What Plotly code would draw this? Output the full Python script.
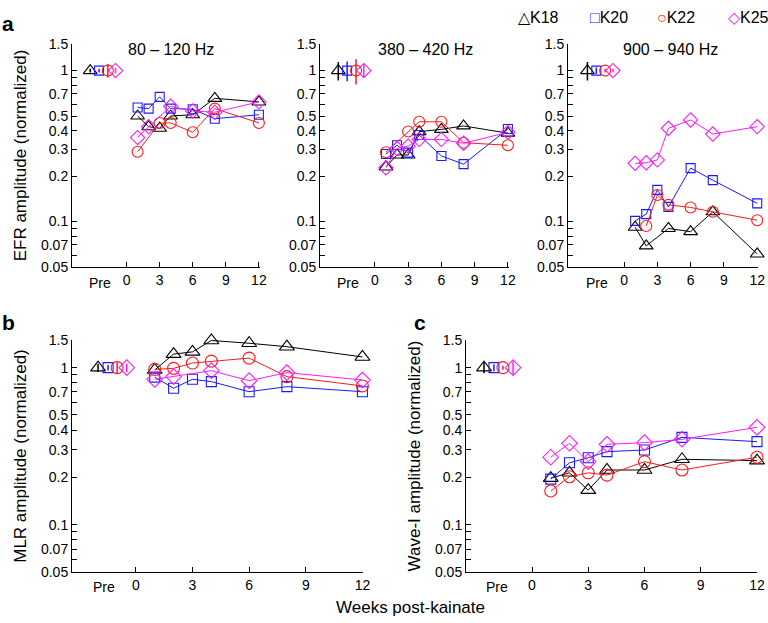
import plotly.graph_objects as go

# ---------------- data ----------------
weeks = [1, 2, 3, 4, 6, 8, 12]
animals = ["K18", "K20", "K22", "K25"]

# EFR 80-120 Hz
efr80_k18 = [0.50, 0.425, 0.415, 0.50, 0.51, 0.655, 0.62]
efr80_k20 = [0.57, 0.56, 0.67, 0.56, 0.555, 0.48, 0.51]
efr80_k22 = [0.29, None, 0.45, 0.45, 0.39, 0.56, 0.45]
efr80_k25 = [0.36, 0.425, None, 0.58, 0.54, 0.53, 0.62]
efr80_pre_err = [0.03, 0.03, 0.1, 0.04]

# EFR 380-420 Hz
efr380_k18 = [0.23, 0.276, 0.276, 0.394, 0.408, 0.43, 0.385]
efr380_k20 = [0.28, 0.32, 0.286, 0.374, 0.272, 0.24, 0.41]
efr380_k22 = [0.288, None, 0.395, 0.458, 0.458, 0.333, 0.32]
efr380_k25 = [0.227, 0.305, 0.316, 0.35, 0.35, 0.33, 0.39]
efr380_pre_err = [0.14, 0.15, 0.19, 0.1]

# EFR 900-940 Hz
efr900_k18 = [0.0917, 0.069, None, 0.090, 0.0857, 0.116, 0.061]
efr900_k20 = [0.101, 0.112, 0.162, 0.125, 0.226, 0.188, 0.132]
efr900_k22 = [None, 0.0935, 0.150, 0.129, 0.124, 0.116, 0.102]
efr900_k25 = [0.243, 0.245, 0.256, 0.415, 0.471, 0.38, 0.425]
efr900_pre_err = [0.14, 0.05, 0.03, 0.03]

# MLR
mlr_k18 = [0.966, 1.22, 1.26, 1.49, 1.43, 1.36, 1.17]
mlr_k20 = [0.87, 0.74, 0.843, 0.815, 0.703, 0.757, 0.703]
mlr_k22 = [0.975, 0.99, 1.07, 1.10, 1.15, 0.877, 0.765]
mlr_k25 = [0.843, 0.877, None, 0.957, 0.826, 0.93, 0.834]
mlr_pre_err = [0.06, 0.04, 0.08, 0.06]

# Wave-I
wave1_k18 = [0.198, 0.214, 0.166, 0.223, 0.223, 0.261, 0.256]
wave1_k20 = [0.195, 0.248, 0.267, 0.292, 0.299, 0.36, 0.338]
wave1_k22 = [0.164, 0.202, 0.214, 0.207, 0.252, 0.223, 0.269]
wave1_k25 = [0.269, 0.33, 0.252, 0.325, 0.333, 0.35, 0.417]
wave1_pre_err = [0.08, 0.05, 0.03, 0.1]

pre_value = 1.0
x_ticks = [0, 3, 6, 9, 12]
y_ticks = [0.05, 0.06, 0.07, 0.08, 0.09, 0.1, 0.2, 0.3, 0.4, 0.5, 0.6, 0.7, 0.8, 0.9, 1, 1.5]
y_ticktext = ["0.05", "", "0.07", "", "", "0.1", "0.2", "0.3", "0.4", "0.5", "", "0.7", "", "", "1", "1.5"]

# ---------------- styling ----------------
colors = ["#000000", "#1a1aff", "#ff1a1a", "#ff1aff"]
symbols = ["triangle-up-open", "square-open", "circle-open", "diamond-open"]
FONT = "Arial, Liberation Sans, sans-serif"
W, H = 768, 623


def px(x):
    return x / W


def py(y):
    return 1 - y / H


def xd(l, r):
    return [px(l), px(r)]


def yd(t, b):
    return [py(b), py(t)]


panels = [
    dict(series=[efr80_k18, efr80_k20, efr80_k22, efr80_k25], err=efr80_pre_err,
         xdom=xd(72, 260), ydom=yd(44, 267), xr=[-4.95, 12.1],
         pre_x=[-3.3, -2.5, -1.7, -1.0], pre_lab=-2.43, lab_y=283,
         ytitle="EFR amplitude (normalized)", msz=[12, 9, 11, 11]),
    dict(series=[efr380_k18, efr380_k20, efr380_k22, efr380_k25], err=efr380_pre_err,
         xdom=xd(320, 509), ydom=yd(44, 267), xr=[-4.95, 12.1],
         pre_x=[-3.3, -2.5, -1.7, -1.0], pre_lab=-2.43, lab_y=283,
         ytitle=None, msz=[12, 9, 11, 11]),
    dict(series=[efr900_k18, efr900_k20, efr900_k22, efr900_k25], err=efr900_pre_err,
         xdom=xd(568, 758), ydom=yd(44, 267), xr=[-5.05, 12.07],
         pre_x=[-3.3, -2.5, -1.7, -1.0], pre_lab=-2.43, lab_y=283,
         ytitle=None, msz=[12, 9, 11, 11]),
    dict(series=[mlr_k18, mlr_k20, mlr_k22, mlr_k25], err=mlr_pre_err,
         xdom=xd(72, 363), ydom=yd(340, 572), xr=[-3.38, 12.03],
         pre_x=[-2.0, -1.47, -0.99, -0.48], pre_lab=-1.69, lab_y=587,
         ytitle="MLR amplitude (normalized)", msz=[13, 10, 12, 12]),
    dict(series=[wave1_k18, wave1_k20, wave1_k22, wave1_k25], err=wave1_pre_err,
         xdom=xd(466, 757), ydom=yd(340, 572), xr=[-3.52, 12.0],
         pre_x=[-2.56, -2.03, -1.55, -1.01], pre_lab=-1.87, lab_y=587,
         ytitle="Wave-I amplitude (normalized)", msz=[13, 10, 12, 12]),
]

fig = go.Figure()
annotations = []

for i, p in enumerate(panels):
    n = "" if i == 0 else str(i + 1)
    xa, ya = "x" + n, "y" + n
    for k in range(4):
        # post-kainate series
        fig.add_trace(go.Scatter(
            x=weeks, y=p["series"][k], mode="lines+markers", xaxis=xa, yaxis=ya,
            connectgaps=True, cliponaxis=False, showlegend=False, name=animals[k],
            line=dict(color=colors[k], width=1),
            marker=dict(symbol=symbols[k], size=p["msz"][k], color=colors[k],
                        line=dict(width=1.1, color=colors[k])),
        ))
        # pre value with error bar
        fig.add_trace(go.Scatter(
            x=[p["pre_x"][k]], y=[pre_value], mode="markers", xaxis=xa, yaxis=ya,
            cliponaxis=False, showlegend=False, name=animals[k],
            marker=dict(symbol=symbols[k], size=p["msz"][k], color=colors[k],
                        line=dict(width=1.1, color=colors[k])),
            error_y=dict(type="data", array=[p["err"][k]], color=colors[k],
                         thickness=1.5, width=0),
        ))
    axis_common = dict(showline=True, linecolor="black", linewidth=1, showgrid=False,
                       zeroline=False, ticks="inside", ticklen=5, tickcolor="black",
                       automargin=False,
                       tickfont=dict(size=14, color="black", family=FONT))
    fig.update_layout(**{
        ("xaxis" + n): dict(axis_common, domain=p["xdom"], range=p["xr"], anchor=ya,
                            tickmode="array", tickvals=x_ticks),
        ("yaxis" + n): dict(axis_common, domain=p["ydom"], type="log",
                            range=[-1.30103, 0.17609], anchor=xa,
                            tickmode="array", tickvals=y_ticks, ticktext=y_ticktext,
                            title=dict(text=p["ytitle"] or "", standoff=10,
                                       font=dict(size=17, family=FONT, color="black"))),
    })
    annotations.append(dict(text="Pre", x=p["pre_lab"], xref=xa, y=py(p["lab_y"]),
                            yref="paper", xanchor="center", yanchor="middle",
                            showarrow=False,
                            font=dict(size=14, family=FONT, color="black")))

# panel titles
for txt, xc in [("80 – 120 Hz", 171), ("380 – 420 Hz", 425), ("900 – 940 Hz", 670)]:
    annotations.append(dict(text=txt, x=px(xc), y=py(50), xref="paper", yref="paper",
                            xanchor="center", yanchor="middle", showarrow=False,
                            font=dict(size=16, family=FONT, color="black")))

# panel letters
for txt, xl, yc in [("a", 0, 23), ("b", 0, 322), ("c", 412, 322)]:
    annotations.append(dict(text="<b>%s</b>" % txt, x=px(xl), y=py(yc), xref="paper",
                            yref="paper", xanchor="left", yanchor="middle",
                            showarrow=False,
                            font=dict(size=21, family=FONT, color="black")))

# legend
legend_glyphs = ["△", "□", "○", "◇"]
for k, xl in enumerate([516, 588, 655, 726]):
    annotations.append(dict(
        text='<span style="color:%s">%s</span>K%s' % (colors[k], legend_glyphs[k], animals[k][1:]),
        x=px(xl), y=py(17), xref="paper", yref="paper", xanchor="left", yanchor="middle",
        showarrow=False, font=dict(size=16, family=FONT, color="black")))

annotations.append(dict(text="Weeks post-kainate", x=px(410), y=py(607), xref="paper",
                        yref="paper", xanchor="center", yanchor="middle", showarrow=False,
                        font=dict(size=17, family=FONT, color="black")))

fig.update_layout(width=W, height=H, margin=dict(l=0, r=0, t=0, b=0),
                  template="none",
                  plot_bgcolor="white", paper_bgcolor="white",
                  font=dict(family=FONT, color="black"),
                  annotations=annotations, showlegend=False)

fig.write_html("out.html", config={"displayModeBar": False},
               post_script="document.body.style.margin='0';document.body.style.overflow='hidden';")
